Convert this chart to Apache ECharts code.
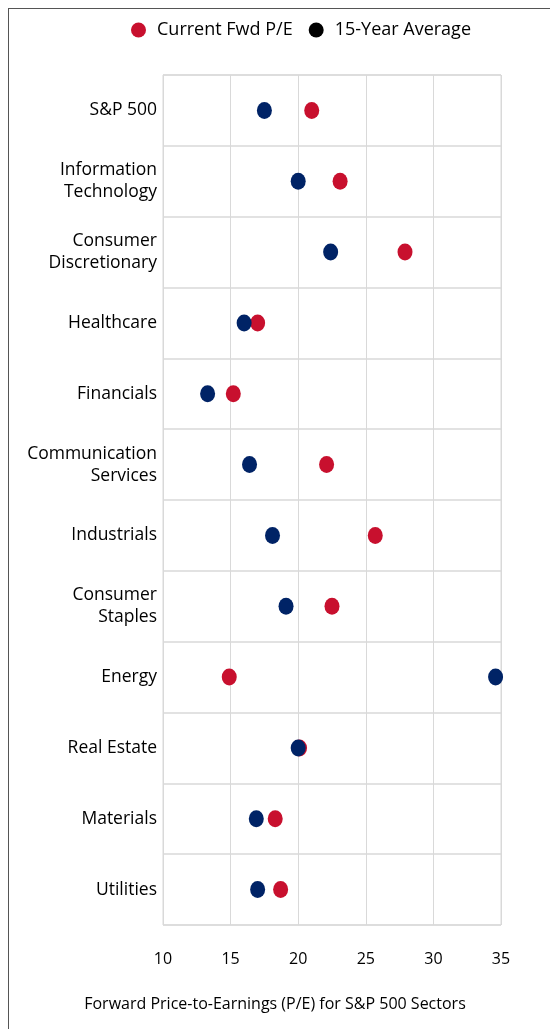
<!DOCTYPE html>
<html>
<head>
<meta charset="utf-8">
<script src="https://cdn.jsdelivr.net/npm/echarts@6/dist/echarts.min.js"></script>
<style>
  html, body { margin: 0; padding: 0; background: #fff; }
  #frame { position: absolute; left: 8px; top: 8px; width: 560px; height: 1040px;
    border-left: 1.5px solid #555; border-top: 1.5px solid #555; }
  #main { position: absolute; left: 0; top: 0; width: 550px; height: 1029px; }
</style>
</head>
<body>
<div id="frame"></div>
<div id="main"></div>
<script>
var sectors = ["S&P 500", "Information\nTechnology", "Consumer\nDiscretionary", "Healthcare",
  "Financials", "Communication\nServices", "Industrials", "Consumer\nStaples", "Energy",
  "Real Estate", "Materials", "Utilities"];
var currentPE = [21.0, 23.1, 27.9, 17.0, 15.2, 22.1, 25.7, 22.5, 14.9, 20.1, 18.3, 18.7];
var avgPE = [17.5, 20.0, 22.4, 16.0, 13.3, 16.4, 18.1, 19.1, 34.6, 20.0, 16.9, 17.0];

var myChart = echarts.init(document.getElementById("main"));
var font = "Open Sans";

var option = {
  animation: false,
  textStyle: { fontFamily: font },
  title: {
    text: "Forward Price-to-Earnings (P/E) for S&P 500 Sectors",
    left: "center",
    bottom: 12,
    textStyle: { fontFamily: font, fontSize: 16, fontWeight: "normal", color: "#000" },
  },
  legend: {
    top: 16,
    left: 126,
    icon: "circle",
    itemWidth: 15,
    itemHeight: 15,
    itemGap: 16,
    textStyle: { fontFamily: font, fontSize: 18, color: "#000", padding: [0, 0, 0, 6] },
    data: [
      { name: "Current Fwd P/E" },
      { name: "15-Year Average", itemStyle: { color: "#000" } },
    ],
  },
  grid: {
    left: 163,
    right: 49,
    top: 75,
    bottom: 104,
    show: true,
    borderColor: "#d9d9d9",
    borderWidth: 1,
  },
  xAxis: {
    type: "value",
    min: 10,
    max: 35,
    interval: 5,
    axisLine: { show: false },
    axisTick: { show: false },
    axisLabel: { fontFamily: font, fontSize: 16, color: "#000", margin: 26 },
    splitLine: { lineStyle: { color: "#d9d9d9", width: 1 } },
  },
  yAxis: {
    type: "category",
    inverse: true,
    data: sectors,
    axisLine: { show: false },
    axisTick: { show: false },
    axisLabel: { fontFamily: font, fontSize: 17.5, color: "#000", margin: 6, lineHeight: 22, align: "right" },
    splitLine: { show: true, lineStyle: { color: "#d9d9d9", width: 1.5 } },
  },
  series: [
    {
      name: "Current Fwd P/E",
      type: "scatter",
      symbol: "circle",
      symbolSize: [15, 17],
      itemStyle: { color: "#C8102E", opacity: 1 },
      data: currentPE,
    },
    {
      name: "15-Year Average",
      type: "scatter",
      symbol: "circle",
      symbolSize: [15, 17],
      itemStyle: { color: "#002366", opacity: 1 },
      data: avgPE,
    },
  ],
};

myChart.setOption(option);
</script>
</body>
</html>
